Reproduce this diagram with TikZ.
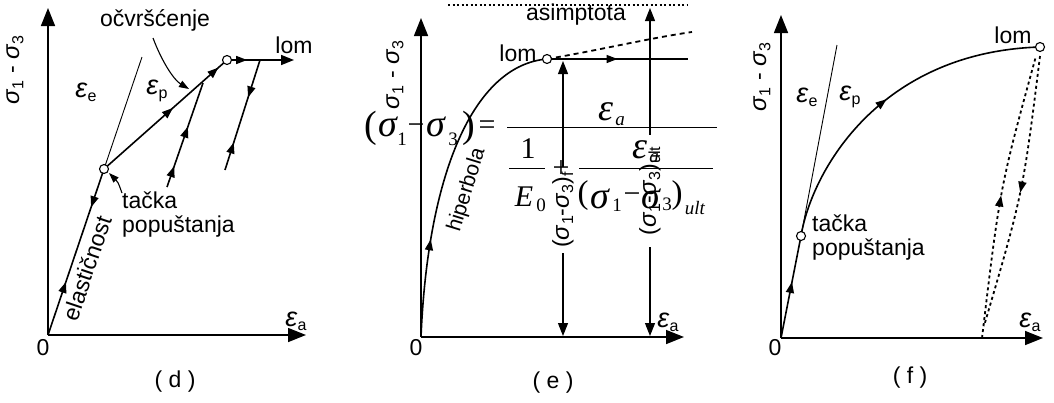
\documentclass[tikz,border=0pt]{standalone}
\usepackage{fontspec}
\setmainfont{Liberation Sans}
\newfontfamily\tnr{Liberation Serif}
\usetikzlibrary{arrows.meta,decorations.markings}
\newcommand{\lsub}[1]{\raisebox{-0.35ex}{\fontsize{16}{16}\selectfont #1}}
\newcommand{\mysig}{{\fontsize{24}{24}\selectfont\textit{σ}}}
\newcommand{\myeps}{{\fontsize{27}{27}\selectfont\textit{ε}}}
\begin{document}
\begin{tikzpicture}[x=1pt,y=-1pt,
 lab/.style={font=\fontsize{23}{24}\selectfont, inner sep=0pt},
 ax/.style={line width=1.5pt,-{Triangle[length=18pt,width=14pt]}},
 crv/.style={line width=1.6pt},
 thinln/.style={line width=0.9pt},
 circ/.style={circle,draw,line width=1.1pt,fill=white,inner sep=0pt,minimum size=9pt},
 fa/.style={postaction={decorate,decoration={markings,mark=at position #1 with {\arrow{Triangle[length=11pt,width=8pt]}}}}},
 ra/.style={postaction={decorate,decoration={markings,mark=at position #1 with {\arrowreversed{Triangle[length=11pt,width=8pt]}}}}},
 tip/.style={-{Triangle[length=13pt,width=10pt]}},
 ptr/.style={line width=1.1pt,-{Triangle[length=10pt,width=7pt]}},
 dotl/.style={line width=1.8pt,dash pattern=on 3pt off 3pt},
 eq/.style={font=\tnr\fontsize{30}{30}\selectfont,inner sep=0pt},
 eqg/.style={font=\tnr\fontsize{38}{38}\selectfont,inner sep=0pt},
 eqb/.style={font=\tnr\fontsize{38}{38}\selectfont,inner sep=0pt},
 eqm/.style={font=\tnr\fontsize{33}{33}\selectfont,inner sep=0pt},
 eqs/.style={font=\tnr\fontsize{19}{19}\selectfont,inner sep=0pt},
 bar/.style={line width=1pt}
]
\fill[white] (0,0) rectangle (1054,402);
\useasboundingbox (0,0) rectangle (1054,402);

% ================= panel (d) =================
\coordinate (Od) at (48,335);
\coordinate (Dyt) at (48,8);
\coordinate (Dxt) at (306,335);
\coordinate (Yd) at (104,169);
\coordinate (Ld) at (227,60);
\coordinate (Pd) at (203,83);
\coordinate (Et) at (142,57);
\coordinate (LdE) at (294,60);
\coordinate (Ad) at (167,187);
\coordinate (Bt) at (260,60);
\coordinate (Bb) at (225,170);
\draw[ax] (Od) -- (Dyt);
\draw[ax] (Od) -- (Dxt);
\draw[thinln] (Yd) -- (Et);
\draw[crv,fa=0.32,ra=0.77] (Od) -- (Yd);
\draw[crv,fa=0.56,fa=0.93] (Yd) -- (Ld);
\draw[crv,tip,fa=0.3] (Ld) -- (LdE);
\draw[crv,fa=0.2,fa=0.58] (Ad) -- (Pd);
\draw[crv,fa=0.34,ra=0.75] (Bt) -- (Bb);
\node[circ] (cYd) at (Yd) {};
\node[circ] (cLd) at (Ld) {};
\node[lab,rotate=90] (sd) at (15,70) {\mysig\lsub{1} - \mysig\lsub{3}};
\node[lab] (zd) at (43,348) {0};
\node[lab] (ead) at (296,321) {\myeps\lsub{a}};
\node[lab] (eed) at (86,92) {\myeps\lsub{e}};
\node[lab] (epd) at (157,91) {\myeps\lsub{p}};
\node[lab] (ocd) at (155,20) {očvršćenje};
\node[lab] (lomd) at (294,45) {lom};
\node[lab,align=left,anchor=west] (tpd) at (122,215) {tačka\\popuštanja};
\node[lab,rotate=71.4] (eld) at (87,268) {elastičnost};
\node[lab] (capd) at (175,382) {( d )};
\coordinate (oc1) at (153,38);
\coordinate (oc2) at (189,89);
\draw[ptr] (oc1) .. controls (162,62) and (174,80) .. (oc2);
\coordinate (tp1) at (122,193);
\coordinate (tp2) at (109,173);
\draw[ptr] (tp1) .. controls (118,182) .. (tp2);

% ================= panel (e) =================
\coordinate (Oe) at (421,337);
\coordinate (Eyt) at (421,18);
\coordinate (Ext) at (684,337);
\coordinate (Le) at (547,59);
\coordinate (LeE) at (688,59);
\coordinate (Da) at (692,32);
\coordinate (As1) at (448,5);
\coordinate (As2) at (687,5);
\draw[ax] (Oe) -- (Eyt);
\draw[ax] (Oe) -- (Ext);
\draw[line width=1.5pt,dash pattern=on 2pt off 2.5pt] (As1) -- (As2);
\draw[crv,fa=0.3] (Oe) .. controls (428,170) and (475,65) .. (Le);
\draw[line width=1.8pt,dash pattern=on 5pt off 4pt] (Le) .. controls (600,50) and (650,38) .. (Da);
\draw[crv,fa=0.5] (Le) -- (LeE);
\node[circ] (cLe) at (Le) {};
\node[lab,rotate=90] (se) at (395,75) {\mysig\lsub{1} - \mysig\lsub{3}};
\node[lab] (ze) at (416,348) {0};
\node[lab] (eae) at (668,322) {\myeps\lsub{a}};
\node[lab] (ase) at (576,15) {asimptota};
\node[lab] (lome) at (518,53) {lom};
\node[lab,rotate=73,font=\fontsize{21}{22}\selectfont] (hie) at (467,190) {hiperbola};
\node[lab] (cape) at (553,383) {( e )};
% (sigma1-sigma3)_f
\node[lab,rotate=90,minimum width=86pt] (fl) at (563,210) {(\mysig\lsub{1}-\mysig\lsub{3})\lsub{f}};
\coordinate (fT) at (563,61);
\coordinate (fB) at (563,336);
\draw[line width=1.1pt,tip] (fl.east) -- (fT);
\draw[line width=1.1pt,tip] (fl.west) -- (fB);
% (sigma1-sigma3)_ult
\node[lab,rotate=90,minimum width=112pt] (ul) at (650,191) {(\mysig\lsub{1}-\mysig\lsub{3})\lsub{ult}};
\coordinate (uT) at (650,8);
\coordinate (uB) at (650,336);
\draw[line width=1.1pt,tip] (ul.east) -- (uT);
\draw[line width=1.1pt,tip] (ul.west) -- (uB);

% ================= panel (f) =================
\coordinate (Of) at (781,338);
\coordinate (Fyt) at (781,15);
\coordinate (Fxt) at (1043,338);
\coordinate (Yf) at (801,236);
\coordinate (Lf) at (1040,47);
\coordinate (Ft) at (837,45);
\coordinate (Lb1) at (982,338);
\coordinate (Lt1) at (1036,56);
\coordinate (Lt2) at (1040,56);
\coordinate (Lb2) at (984,326);
\draw[ax] (Of) -- (Fyt);
\draw[ax] (Of) -- (Fxt);
\draw[thinln] (Yf) -- (Ft);
\draw[crv,fa=0.55] (Of) -- (Yf);
\draw[crv,fa=0.5] (Yf) .. controls (812,170) and (880,52) .. (Lf);
\draw[dotl,fa=0.5] (Lb1) .. controls (1000,187) .. (Lt1);
\draw[dotl,fa=0.5] (Lt2) .. controls (1023,193) .. (Lb2);
\node[circ] (cYf) at (Yf) {};
\node[circ] (cLf) at (Lf) {};
\node[lab,rotate=90] (sf) at (762,77) {\mysig\lsub{1} - \mysig\lsub{3}};
\node[lab] (zf) at (775,348) {0};
\node[lab] (eaf) at (1030,322) {\myeps\lsub{a}};
\node[lab] (eef) at (807,97) {\myeps\lsub{e}};
\node[lab] (epf) at (850,97) {\myeps\lsub{p}};
\node[lab] (lomf) at (1013,35) {lom};
\node[lab,align=left,anchor=west] (tpf) at (812,238) {tačka\\popuštanja};
\node[lab] (capf) at (910,378) {( f )};

% ================= equation overlay =================
\node[eqb] (q1) at (371,128) {(};
\node[eqg] (q2) at (388,127) {\textit{σ}};
\node[eqs] (q3) at (402,139) {1};
\node[eq] (q4) at (416,129) {−};
\node[eqg] (q5) at (436,127) {\textit{σ}};
\node[eqs] (q6) at (453,139) {3};
\node[eqb] (q7) at (469,128) {)};
\node[eq] (q8) at (487,128) {=};
\coordinate (mb1) at (507,127);
\coordinate (mb2) at (717,127);
\draw[bar] (mb1) -- (mb2);
\node[eqg] (n1) at (606,112) {\textit{ε}};
\node[eqs] (n2) at (620,121) {\textit{a}};
\node[eq] (d1) at (528,149) {1};
\coordinate (sb1) at (509,168);
\coordinate (sb2) at (545,168);
\draw[bar] (sb1) -- (sb2);
\node[eq] (d2) at (524,197) {\textit{E}};
\node[eqs] (d3) at (541,205) {0};
\node[eq] (d4) at (561,169) {+};
\coordinate (tb1) at (579,168);
\coordinate (tb2) at (713,168);
\draw[bar] (tb1) -- (tb2);
\node[eqg] (d5) at (640,150) {\textit{ε}};
\node[eqs] (d6) at (654,158) {\textit{a}};
\node[eqm] (d7) at (583,196) {(};
\node[eqg] (d8) at (600,199) {\textit{σ}};
\node[eqs] (d9) at (617,205) {1};
\node[eq] (d10) at (632,198) {−};
\node[eqg] (d11) at (651,199) {\textit{σ}};
\node[eqs] (d12) at (667,204) {3};
\node[eqm] (d13) at (677,196) {)};
\node[eqs] (d14) at (695,208) {\textit{ult}};
\end{tikzpicture}
\end{document}
